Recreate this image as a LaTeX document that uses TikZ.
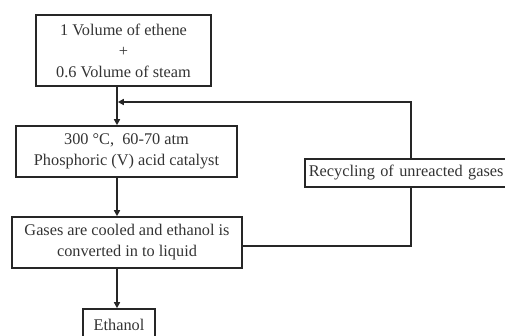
\documentclass[tikz,border=0pt]{standalone}
\usepackage{fontspec}
\setmainfont{Liberation Serif}
\usetikzlibrary{arrows.meta}
\begin{document}
\begin{tikzpicture}[x=1pt,y=-1pt,
  every node/.style={font=\fontsize{16.3}{21}\selectfont, text=black!80},
  boxnode/.style={draw=black!85, line width=1.6pt, align=center, inner sep=0pt},
  conn/.style={draw=black!85, line width=1.6pt},
  arr/.style={conn, -{Triangle[length=6pt,width=6pt]}}]
\useasboundingbox (0,0) rectangle (505,335);
\node[boxnode, minimum width=175pt, minimum height=71pt] (box1) at (123.5,50.5)
  {1 Volume of ethene\\+\\0.6 Volume of steam};
\node[boxnode, minimum width=221pt, minimum height=51pt] (box2) at (126.5,151.5)
  {300 °C,\ \ 60-70 atm\\Phosphoric (V) acid catalyst};
\node[boxnode, minimum width=230pt, minimum height=51pt] (box3) at (127,242.5)
  {Gases are cooled and ethanol is\\converted in to liquid};
\node[boxnode, minimum width=72pt, minimum height=32pt] (eth) at (119,325) {Ethanol};
\node[boxnode, anchor=west, minimum width=230pt, minimum height=28pt, text width=222pt, align=left, inner xsep=4pt] (rec) at (304,173)
  {Recycling of unreacted gases};
\coordinate (spine) at (117,0);
\coordinate (loopR) at (411,246);
\coordinate (join) at (117.8,102);
\draw[arr] (box1.south -| spine) -- (box2.north -| spine);
\draw[arr] (box2.south -| spine) -- (box3.north -| spine);
\draw[arr] (box3.south -| spine) -- (eth.north -| spine);
\draw[conn] (box3.east |- loopR) -- (loopR) -- (loopR |- rec.south);
\draw[arr] (loopR |- rec.north) -- (loopR |- join) -- (join);
\end{tikzpicture}
\end{document}
